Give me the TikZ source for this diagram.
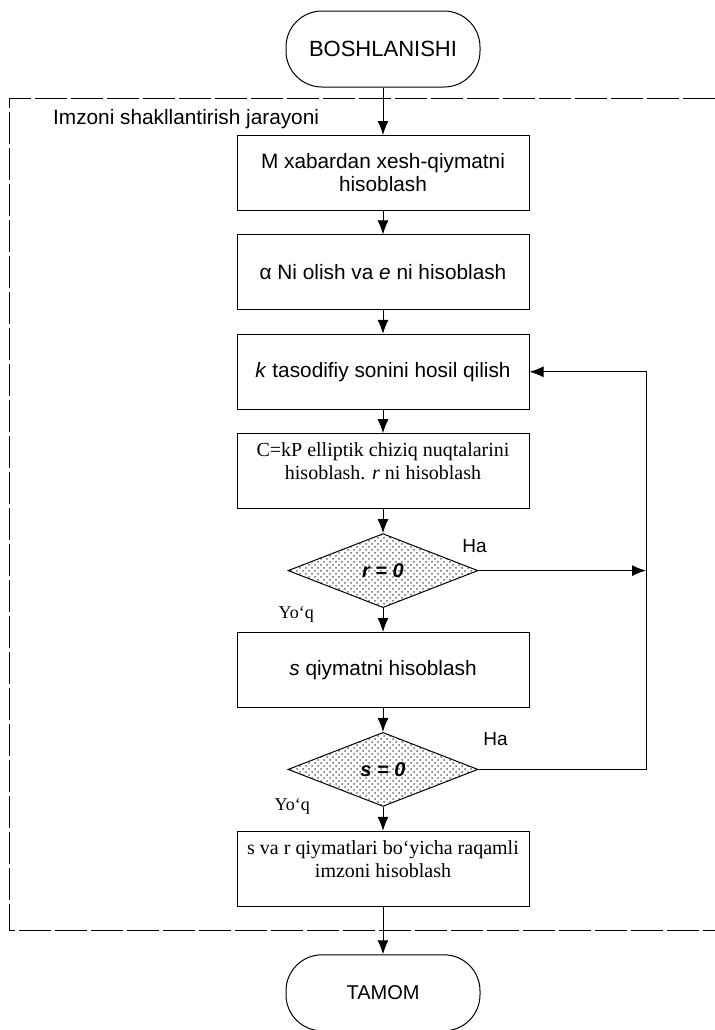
\documentclass[tikz,border=0pt]{standalone}
\usepackage{fontspec}
\setmainfont{Liberation Sans}
\newfontfamily\timesfont{Liberation Serif}
\usetikzlibrary{shapes.geometric, positioning, arrows.meta, patterns}

\begin{document}
\begin{tikzpicture}[node distance=49.7pt,on grid,line width=0.5pt,
  >={Latex[length=7pt,width=5.5pt]},
  font=\fontsize{10.4}{11.5}\selectfont,
  block/.style={draw,rectangle,minimum width=146pt,minimum height=37.5pt,align=center,inner sep=2pt},
  term/.style={draw,rectangle,rounded corners=18pt,minimum width=97pt,minimum height=38pt},
  cond/.style={draw,diamond,aspect=2.6,minimum width=95pt,minimum height=37pt,inner sep=0pt,
    pattern=crosshatch dots,pattern color=black!60,font=\fontsize{10}{12}\selectfont\bfseries\itshape},
  serif/.style={font=\timesfont\fontsize{10}{11.5}\selectfont},
  halbl/.style={font=\fontsize{9.5}{11}\selectfont},
  nolbl/.style={font=\timesfont\fontsize{9}{11}\selectfont},
  frame/.style={dash pattern=on 16pt off 2pt}]
\useasboundingbox (0,0) rectangle (357.5pt,-515pt);

\node[term,font=\fontsize{11}{13}\selectfont] (start) at (191.5pt,-24.5pt) {BOSHLANISHI};
\node[block] (hash) [below=62pt of start] {M xabardan xesh-qiymatni\\hisoblash};
\node[block] (ne) [below=of hash] {α Ni olish va \textit{e} ni hisoblash};
\node[block] (rand) [below=of ne] {\textit{k} tasodifiy sonini hosil qilish};
\node[block,serif,text depth=10.5pt] (point) [below=of rand] {C=kP elliptik chiziq nuqtalarini\\hisoblash. \textit{r} ni hisoblash};
\node[cond] (rzero) [below=of point] {r = 0};
\node[block] (sval) [below=of rzero] {\textit{s} qiymatni hisoblash};
\node[cond] (szero) [below=of sval] {s = 0};
\node[block,serif,text depth=9.5pt] (sign) [below=of szero] {s va r qiymatlari bo‘yicha raqamli\\imzoni hisoblash};
\node[term,font=\fontsize{10}{12}\selectfont] (stop) [below=62pt of sign] {TAMOM};

% jarayon ramkasi
\draw[frame] (357.5pt,-49pt) -- (4.5pt,-49pt) -- (4.5pt,-465pt) -- (357.5pt,-465pt);
\node[anchor=base west] (title) at (23pt,-62pt) {Imzoni shakllantirish jarayoni};

\node[halbl] (ha1) at ([xshift=-2pt,yshift=12.5pt]rzero.east) {Ha};
\node[halbl] (ha2) at ([xshift=8.5pt,yshift=15pt]szero.east) {Ha};
\node[nolbl] (no1) [left=31pt of rzero.south,yshift=-3pt] {Yo‘q};
\node[nolbl] (no2) [left=33pt of szero.south] {Yo‘q};

\path[->]
(start) edge (hash)
(hash) edge (ne)
(ne) edge (rand)
(rand) edge (point)
(point) edge (rzero)
(rzero) edge (sval)
(sval) edge (szero)
(szero) edge (sign)
(sign) edge (stop);

% qaytish chizig'i
\coordinate (back) at (323pt,0);
\draw[->] (rzero.east) -- (rzero.east -| back);
\draw[->] (szero.east) -- (szero.east -| back) |- (rand.east);
\end{tikzpicture}
\end{document}
